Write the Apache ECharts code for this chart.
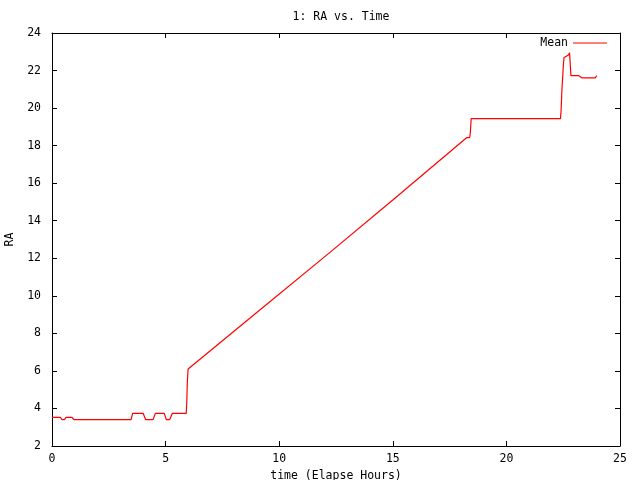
<!DOCTYPE html>
<html>
<head>
<meta charset="UTF-8">
<title>RA vs. Time</title>
<script src="https://cdn.jsdelivr.net/npm/echarts@6/dist/echarts.min.js"></script>
<style>
  html, body { margin: 0; padding: 0; background: #fff; }
  #chart { width: 640px; height: 480px; }
</style>
</head>
<body>
<div id="chart"></div>
<script>
// elapsed hours and mean RA
var hours = [0, 0.37, 0.44, 0.55, 0.62, 0.88, 0.96, 3.48, 3.55, 4.01, 4.12, 4.45, 4.55, 4.94, 5.03, 5.18, 5.30,
             5.91, 5.93, 5.96, 5.99, 9.0, 12.3, 15.0, 18.26, 18.38, 18.41, 18.45,
             22.38, 22.41, 22.44, 22.51, 22.54, 22.73, 22.78, 22.84, 22.91, 23.17, 23.32, 23.91, 23.98];
var meanRA = [3.53, 3.53, 3.41, 3.41, 3.53, 3.53, 3.41, 3.41, 3.74, 3.74, 3.41, 3.41, 3.74, 3.74, 3.41, 3.41, 3.74,
              3.74, 4.3, 5.5, 6.1, 9.1, 12.38, 15.1, 18.43, 18.43, 18.64, 19.44,
              19.44, 19.92, 20.89, 22.35, 22.70, 22.83, 22.94, 21.73, 21.73, 21.73, 21.61, 21.61, 21.73];

var font = 'DejaVu Sans Mono';
var txt = { fontFamily: font, fontSize: 11.5, color: '#000' };

var chart = echarts.init(document.getElementById('chart'), null, { renderer: 'canvas' });

var points = hours.map(function (h, i) { return [h, meanRA[i]]; });

var tickIn = { show: true, inside: true, length: 5, lineStyle: { color: '#000', width: 1 } };
var axisLine = { show: true, onZero: false, lineStyle: { color: '#000', width: 1 } };

chart.setOption({
  animation: false,
  backgroundColor: '#fff',
  title: {
    text: '1: RA vs. Time',
    left: 336,
    textAlign: 'center',
    top: 6,
    textStyle: { fontFamily: font, fontSize: 11.5, fontWeight: 'normal', color: '#000' }
  },
  legend: {
    right: 28,
    top: 32,
    bottom: 'auto',
    left: 'auto',
    orient: 'horizontal',
    align: 'right',
    itemWidth: 34,
    itemHeight: 1,
    itemGap: 7,
    icon: 'rect',
    textStyle: txt,
    data: [{ name: 'Mean', itemStyle: { color: '#ff0000' } }]
  },
  grid: { left: 52, right: 20, top: 33, bottom: 34, containLabel: false, outerBoundsMode: 'none' },
  xAxis: [{
    type: 'value', min: 0, max: 25, interval: 5,
    name: 'time (Elapse Hours)', nameLocation: 'middle', nameGap: 22,
    nameTextStyle: txt,
    axisLine: axisLine, axisTick: tickIn,
    axisLabel: { margin: 7, fontFamily: font, fontSize: 11.5, color: '#000' },
    splitLine: { show: false }
  }, {
    type: 'value', min: 0, max: 25, interval: 5, position: 'top',
    axisLine: axisLine, axisTick: tickIn,
    axisLabel: { show: false }, splitLine: { show: false }
  }],
  yAxis: [{
    type: 'value', min: 2, max: 24, interval: 2,
    name: 'RA', nameLocation: 'middle', nameGap: 29,
    nameTextStyle: txt,
    axisLine: axisLine, axisTick: tickIn,
    axisLabel: { margin: 11, fontFamily: font, fontSize: 11.5, color: '#000' },
    splitLine: { show: false }
  }, {
    type: 'value', min: 2, max: 24, interval: 2, position: 'right',
    axisLine: axisLine, axisTick: tickIn,
    axisLabel: { show: false }, splitLine: { show: false }
  }],
  series: [{
    name: 'Mean',
    type: 'line',
    data: points,
    showSymbol: false,
    symbol: 'none',
    lineStyle: { color: '#ff0000', width: 1.2 },
    itemStyle: { color: '#ff0000' }
  }]
});
</script>
</body>
</html>
